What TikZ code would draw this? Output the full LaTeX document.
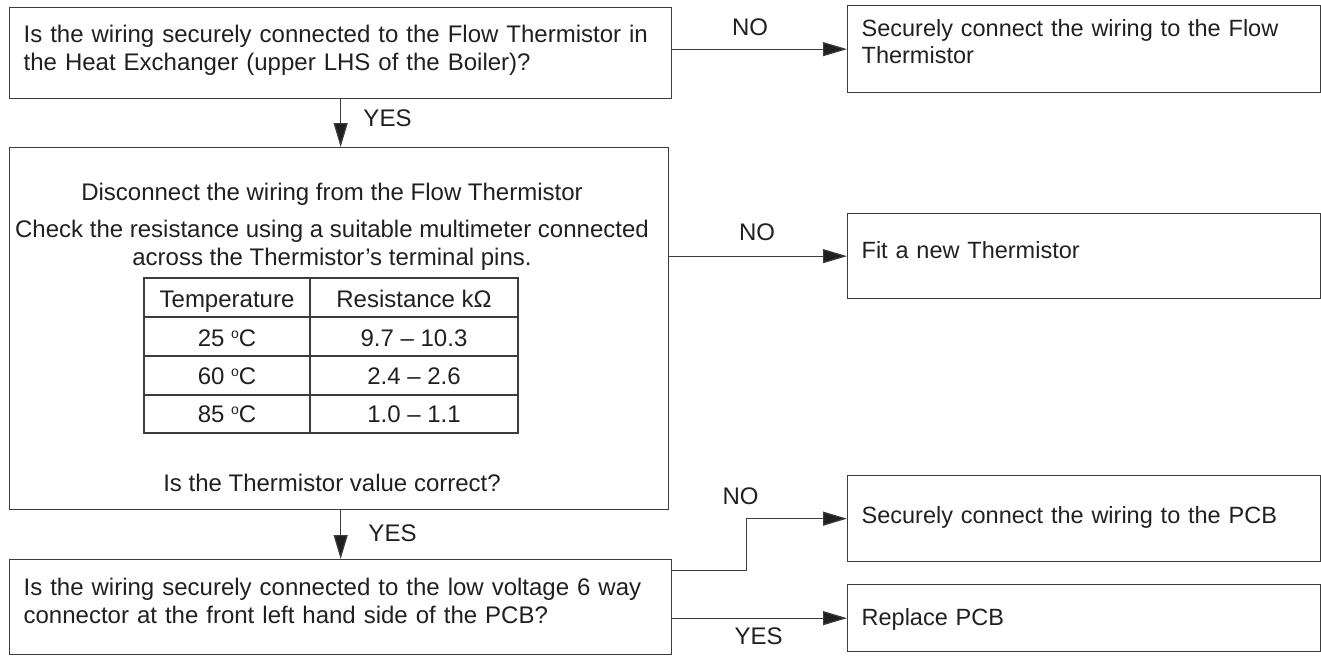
\documentclass[tikz,border=0pt]{standalone}
\usepackage{fontspec}
\setmainfont{Liberation Sans}
\usepackage{tikz}
\usetikzlibrary{arrows.meta, positioning}

\definecolor{linegray}{HTML}{3C3C3C}
\definecolor{inkgray}{HTML}{231F20}

\tikzset{
  box/.style={draw=linegray, line width=1.3pt, rectangle, anchor=north west,
    inner xsep=14pt, inner ysep=0pt, align=left, text=inkgray,
    font=\fontsize{24}{28.5}\selectfont},
  ansbox/.style={box, text width=445pt, font=\fontsize{23.5}{27.5}\selectfont},
  txt/.style={anchor=base, inner sep=0pt, text=inkgray,
    font=\fontsize{24}{28.5}\selectfont},
  arr/.style={draw=linegray, line width=1.2pt,
    -{Triangle[length=24pt, width=14pt, fill=inkgray]}},
  grid/.style={draw=linegray, line width=1.3pt}
}

\newcommand{\degC}{ \raisebox{8.5pt}{\fontsize{14}{14}\selectfont o}C}

\begin{document}
\begin{tikzpicture}[x=1pt, y=-1pt]
    \useasboundingbox (0,0) rectangle (1321,656);

    % boxes
    \node[box, text width=634pt, text height=34.8pt, text depth=56.2pt] (q1) at (9,7)
        {Is the wiring securely connected to the Flow Thermistor in\\the Heat Exchanger (upper LHS of the Boiler)?};
    \node[ansbox, text height=30.7pt, text depth=56.3pt] (fix1) at (847,5)
        {Securely connect the wiring to the Flow\\Thermistor};
    \node[box, minimum width=659pt, minimum height=362pt, inner sep=0pt] (chk) at (9,147) {};
    \node[ansbox, text height=44.4pt, text depth=40.6pt] (fit) at (847,213)
        {Fit a new Thermistor};
    \node[box, text width=634pt, text height=35.6pt, text depth=59.4pt] (q2) at (9,559)
        {Is the wiring securely connected to the low voltage 6 way\\connector at the front left hand side of the PCB?};
    \node[ansbox, text height=47.4pt, text depth=38.6pt] (pcb) at (847,475)
        {Securely connect the wiring to the PCB};
    \node[ansbox, text height=40.4pt, text depth=26.6pt] (repl) at (847,584)
        {Replace PCB};

    % text in the check box
    \node[txt] (dis) at (332,200.6) {Disconnect the wiring from the Flow Thermistor};
    \node[txt] (res1) at (332,237.6) {Check the resistance using a suitable multimeter connected};
    \node[txt] (res2) at (332,265.6) {across the Thermistor’s terminal pins.};
    \node[txt] (ask) at (332,491.6) {Is the Thermistor value correct?};

    % table
    \draw[grid] (144,278) rectangle (518,433);
    \draw[grid] (144,317) -- (518,317);
    \draw[grid] (144,356) -- (518,356);
    \draw[grid] (144,395) -- (518,395);
    \draw[grid] (310,278) -- (310,433);
    \node[txt] (th1) at (227,307.6) {Temperature};
    \node[txt] (th2) at (414,307.6) {Resistance kΩ};
    \node[txt] (t1) at (227,346.6) {25\degC};
    \node[txt] (r1) at (414,346.6) {9.7 – 10.3};
    \node[txt] (t2) at (227,384.6) {60\degC};
    \node[txt] (r2) at (414,384.6) {2.4 – 2.6};
    \node[txt] (t3) at (227,422.6) {85\degC};
    \node[txt] (r3) at (414,422.6) {1.0 – 1.1};

    % arrows
    \draw[arr] (q1.east |- fix1.west) -- (fix1.west);
    \draw[arr] (q1.south) -- (q1.south |- chk.north);
    \draw[arr] (chk.east |- fit.west) -- (fit.west);
    \draw[arr] (chk.south -| q2.north) -- (q2.north);
    \draw[arr] ([yshift=36.5pt]q2.east) -- ++(74,0) |- (pcb.west);
    \draw[arr] (q2.east |- repl.west) -- (repl.west);

    % labels
    \node[txt] (no1) at (750,35.6) {NO};
    \node[txt] (no2) at (757,240.6) {NO};
    \node[txt] (no3) at (740.5,504.6) {NO};
    \node[txt] (yes1) at (387.5,126.6) {YES};
    \node[txt] (yes2) at (392.5,541.6) {YES};
    \node[txt] (yes3) at (758.5,644.6) {YES};
\end{tikzpicture}
\end{document}
